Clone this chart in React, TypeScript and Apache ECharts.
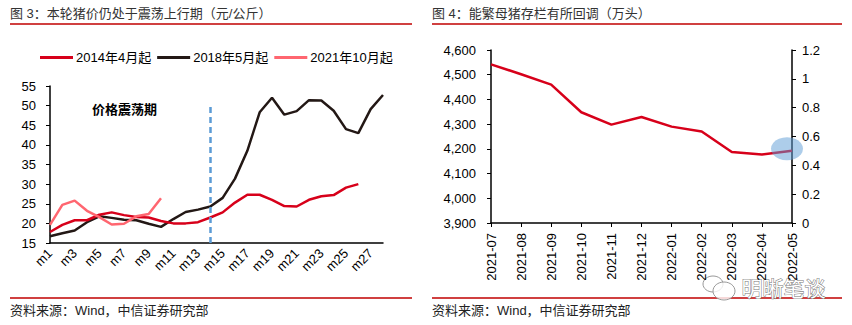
import React, { useEffect, useRef } from "react";
import * as echarts from "echarts";

const leftCategories = Array.from({ length: 28 }, (_, i) => `m${i + 1}`);
const series2014 = [17.8, 19.6, 20.8, 20.8, 22.2, 22.8, 22.1, 21.6, 21.5, 20.6, 20.0, 20.0, 20.3, 21.5, 22.8, 25.3, 27.3, 27.3, 26.0, 24.4, 24.3, 26.0, 26.9, 27.2, 29.1, 30.0];
const series2018 = [16.7, 17.5, 18.2, 20.3, 21.8, 21.4, 20.9, 20.8, 19.9, 19.1, 21.1, 22.9, 23.5, 24.3, 26.5, 31.4, 38.5, 48.3, 52.0, 47.7, 48.6, 51.4, 51.3, 48.7, 44.0, 43.0, 49.1, 52.7];
const series2021 = [19.6, 24.7, 25.8, 23.2, 21.6, 19.7, 19.9, 21.8, 22.4, 26.4];
const legendNames = ["2014年4月起", "2018年5月起", "2021年10月起"];

const rightCategories = ["2021-07", "2021-08", "2021-09", "2021-10", "2021-11", "2021-12", "2022-01", "2022-02", "2022-03", "2022-04", "2022-05"];
const sowStock = [4542, 4502, 4460, 4348, 4298, 4329, 4290, 4270, 4187, 4177, 4192];

const FONT = "'Liberation Sans', 'Noto Sans CJK SC', sans-serif";
const RED = "#D7001A";
const BLACK = "#231815";
const PINK = "#FF6670";
const LINE_RED = "#C00000";

export default function App() {
  const ref = useRef<HTMLDivElement>(null);
  useEffect(() => {
    if (!ref.current) return;
    const chart = echarts.init(ref.current, undefined, { renderer: "svg" });
    const axisText = { color: "#000", fontSize: 13, fontFamily: FONT };
    chart.setOption({
      animation: false,
      textStyle: { fontFamily: FONT },
      legend: {
        left: 35,
        top: 46,
        icon: "rect",
        itemWidth: 33,
        itemHeight: 3,
        itemGap: 6,
        textStyle: { fontSize: 13, color: "#000", fontFamily: FONT, padding: [0, 0, 0, -2] },
        data: legendNames,
      },
      grid: [
        { left: 50, right: 469, top: 86, bottom: 82, containLabel: false },
        { left: 491, right: 60, top: 50, bottom: 102, containLabel: false },
      ],
      xAxis: [
        {
          type: "category",
          gridIndex: 0,
          data: leftCategories,
          boundaryGap: false,
          axisLine: { lineStyle: { color: "#000", width: 1.5 } },
          axisTick: { show: false },
          axisLabel: { ...axisText, rotate: 45, interval: 1, margin: 8 },
        },
        {
          type: "category",
          gridIndex: 1,
          data: rightCategories,
          boundaryGap: false,
          axisLine: { lineStyle: { color: "#000", width: 1.5 } },
          axisTick: { show: true, length: 4, lineStyle: { color: "#000" } },
          axisLabel: { ...axisText, rotate: 90, interval: 0, margin: 10 },
        },
      ],
      yAxis: [
        {
          type: "value",
          gridIndex: 0,
          min: 15,
          max: 55,
          interval: 5,
          splitLine: { show: false },
          axisLine: { show: true, lineStyle: { color: "#000", width: 1.5 } },
          axisTick: { show: true, length: 4, lineStyle: { color: "#000" } },
          axisLabel: { ...axisText, margin: 14 },
        },
        {
          type: "value",
          gridIndex: 1,
          min: 3900,
          max: 4600,
          interval: 100,
          splitLine: { show: false },
          axisLine: { show: true, lineStyle: { color: "#000", width: 1.5 } },
          axisTick: { show: true, length: 4, lineStyle: { color: "#000" } },
          axisLabel: {
            ...axisText,
            margin: 15,
            formatter: (v: number) => v.toLocaleString("en-US"),
          },
        },
        {
          type: "value",
          gridIndex: 1,
          position: "right",
          min: 0,
          max: 1.2,
          interval: 0.2,
          splitLine: { show: false },
          axisLine: { show: true, lineStyle: { color: "#000", width: 1.5 } },
          axisTick: { show: true, length: 4, lineStyle: { color: "#000" } },
          axisLabel: {
            ...axisText,
            margin: 10,
            formatter: (v: number) => String(Math.round(v * 10) / 10),
          },
        },
      ],
      series: [
        {
          name: legendNames[0],
          type: "line",
          xAxisIndex: 0,
          yAxisIndex: 0,
          data: series2014,
          symbol: "none",
          lineStyle: { color: RED, width: 2.5 },
          itemStyle: { color: RED },
          z: 3,
        },
        {
          name: legendNames[1],
          type: "line",
          xAxisIndex: 0,
          yAxisIndex: 0,
          data: series2018,
          symbol: "none",
          lineStyle: { color: BLACK, width: 2.5 },
          itemStyle: { color: BLACK },
          z: 2,
          markLine: {
            silent: true,
            symbol: "none",
            label: { show: false },
            lineStyle: { color: "#5B9BD5", width: 2.5, type: [6, 4] },
            data: [[{ coord: ["m14", 15] }, { coord: ["m14", 49.7] }]],
          },
        },
        {
          name: legendNames[2],
          type: "line",
          xAxisIndex: 0,
          yAxisIndex: 0,
          data: series2021,
          symbol: "none",
          lineStyle: { color: PINK, width: 2.5 },
          itemStyle: { color: PINK },
          z: 4,
        },
        {
          name: "能繁母猪存栏",
          type: "line",
          xAxisIndex: 1,
          yAxisIndex: 1,
          data: sowStock,
          symbol: "none",
          lineStyle: { color: RED, width: 2.5 },
          itemStyle: { color: RED },
          markPoint: {
            silent: true,
            symbol: "circle",
            symbolSize: [32, 23],
            symbolOffset: [-5, -2],
            label: { show: false },
            itemStyle: { color: "rgba(91,155,213,0.5)" },
            data: [{ coord: ["2022-05", 4192] }],
          },
        },
      ],
      graphic: [
        { type: "text", left: 10, top: 7, style: { text: "图 3：本轮猪价仍处于震荡上行期（元/公斤）", fontSize: 13, fill: "#333", fontFamily: FONT } },
        { type: "line", shape: { x1: 10, y1: 24, x2: 412, y2: 24 }, style: { stroke: LINE_RED, lineWidth: 1.5 } },
        { type: "text", left: 432, top: 7, style: { text: "图 4：能繁母猪存栏有所回调（万头）", fontSize: 13, fill: "#333", fontFamily: FONT } },
        { type: "line", shape: { x1: 432, y1: 24, x2: 842, y2: 24 }, style: { stroke: LINE_RED, lineWidth: 1.5 } },
        { type: "text", left: 92, top: 103, style: { text: "价格震荡期", fontSize: 13, fontWeight: "bold", fill: "#000", fontFamily: FONT } },
        { type: "line", shape: { x1: 10, y1: 298, x2: 412, y2: 298 }, style: { stroke: LINE_RED, lineWidth: 1.5 } },
        { type: "line", shape: { x1: 432, y1: 298, x2: 842, y2: 298 }, style: { stroke: LINE_RED, lineWidth: 1.5 } },
        { type: "text", left: 10, top: 304, style: { text: "资料来源：Wind，中信证券研究部", fontSize: 13, fill: "#222", fontFamily: FONT } },
        { type: "text", left: 432, top: 304, style: { text: "资料来源：Wind，中信证券研究部", fontSize: 13, fill: "#222", fontFamily: FONT } },
        { type: "ellipse", shape: { cx: 713, cy: 284, rx: 10, ry: 8 }, style: { fill: "rgba(255,255,255,0.6)", stroke: "#999", lineWidth: 1 } },
        { type: "ellipse", shape: { cx: 724, cy: 291, rx: 11, ry: 9 }, style: { fill: "rgba(255,255,255,0.8)", stroke: "#999", lineWidth: 1 } },
        { type: "text", left: 741, top: 277, style: { text: "明晰笔谈", fontSize: 21, fill: "#fff", stroke: "#777", lineWidth: 1, fontFamily: FONT } },
      ],
    });
    return () => chart.dispose();
  }, []);
  return <div ref={ref} style={{ position: "fixed", left: 0, top: 0, width: 852, height: 325, background: "#fff" }} />;
}
